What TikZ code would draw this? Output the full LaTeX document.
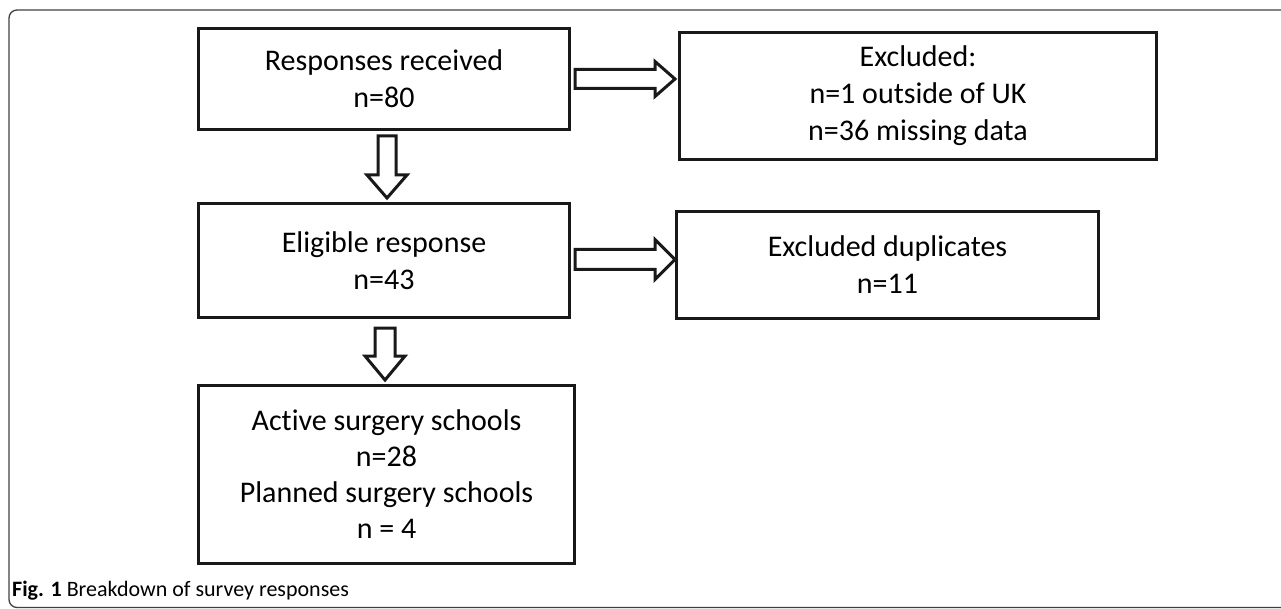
\documentclass[tikz,border=0pt]{standalone}
\usepackage{fontspec}
\setmainfont{Carlito}[Ligatures=NoCommon]
\usetikzlibrary{calc}
\tikzset{
  box/.style={draw=black!90, line width=3pt, anchor=north west, align=center, inner sep=0pt,
    font=\fontsize{30}{37}\selectfont},
  fat/.style={draw=black!90, line width=3pt, fill=white, line join=miter},
  frame/.style={draw=black!75, line width=1.3pt, rounded corners=8pt}
}
\begin{document}
\begin{tikzpicture}[x=1pt,y=-1pt]
\useasboundingbox (0,0) rectangle (1281,609);
\clip (0,0) rectangle (1281,609);
\draw[frame] (1300,10) -- (9,10) -- (9,607.5) -- (1300,607.5);
\node[box, minimum width=371pt, minimum height=101pt] (b1) at (197,27) {Responses received\\n=80};
\node[box, minimum width=477pt, minimum height=127pt] (b2) at (678,31) {Excluded:\\n=1 outside of UK\\n=36 missing data};
\node[box, minimum width=371pt, minimum height=114pt] (b3) at (197,202) {Eligible response\\n=43};
\node[box, minimum width=422pt, minimum height=107pt] (b4) at (675,210) {Excluded duplicates\\n=11};
\node[box, minimum width=376pt, minimum height=178pt, font=\fontsize{30}{36}\selectfont] (b5) at (197,384) {Active surgery schools\\n=28\\Planned surgery schools\\n = 4};
% down arrows
\draw[fat] ($(b1.south)+(-6,5)$) -- ++(0,39) -- ++(-11,0) -- ++(20,23) -- ++(20,-23) -- ++(-11,0) -- ++(0,-39) -- cycle;
\draw[fat] ($(b3.south)+(-9,9)$) -- ++(0,28) -- ++(-10,0) -- ++(20,24) -- ++(20,-24) -- ++(-10,0) -- ++(0,-28) -- cycle;
% right arrows
\draw[fat] ($(b1.east)+(4,-9.5)$) -- ++(80,0) -- ++(0,-8) -- ++(20,17.5) -- ++(-20,17.5) -- ++(0,-8) -- ++(-80,0) -- cycle;
\draw[fat] ($(b3.east)+(4,-11)$) -- ++(80,0) -- ++(0,-10) -- ++(20,20) -- ++(-20,20) -- ++(0,-10) -- ++(-80,0) -- cycle;
\node[anchor=west, inner sep=0pt, font=\fontsize{22}{24}\selectfont] (cap) at (12,591) {\textbf{Fig. 1} Breakdown of survey responses};
\end{tikzpicture}
\end{document}
